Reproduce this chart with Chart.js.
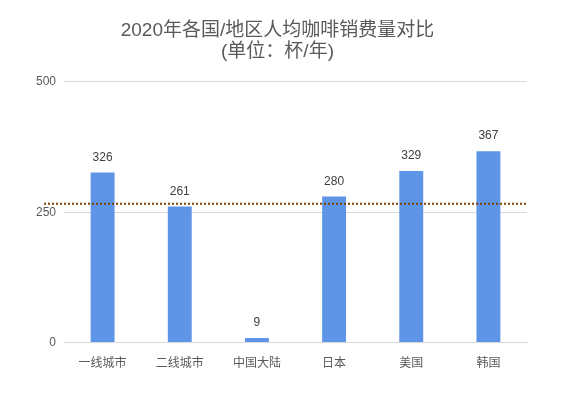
<!DOCTYPE html>
<html>
<head>
<meta charset="utf-8">
<script src="https://cdn.jsdelivr.net/npm/chart.js@4"></script>
<style>
  body { margin: 0; background: #fff; }
  #wrap { width: 583px; height: 394px; }
</style>
</head>
<body>
<div id="wrap"><canvas id="monGraphique" width="583" height="394"></canvas></div>
<script>
// données
const categories = ['一线城市', '二线城市', '中国大陆', '日本', '美国', '韩国'];
const consommation = [326, 261, 9, 280, 329, 367];
const ligneMoyenne = 266; // ligne pointillée
const yTicks = [0, 250, 500];

const fontFamily = '"Liberation Sans", Arial, "Noto Sans CJK SC", sans-serif';

// valeurs au-dessus des barres + ligne pointillée
const pluginExtras = {
    id: 'extras',
    afterDatasetsDraw(chart) {
        const ctx = chart.ctx;
        const meta = chart.getDatasetMeta(0);
        ctx.save();
        ctx.font = '12px ' + fontFamily;
        ctx.fillStyle = '#404040';
        ctx.textAlign = 'center';
        ctx.textBaseline = 'bottom';
        meta.data.forEach((bar, i) => {
            ctx.fillText(consommation[i], bar.x, bar.y - 9);
        });
        // ligne pointillée
        const y = chart.scales.y.getPixelForValue(ligneMoyenne);
        ctx.strokeStyle = '#7f3f00';
        ctx.lineWidth = 2;
        ctx.setLineDash([2, 2]);
        ctx.beginPath();
        ctx.moveTo(chart.chartArea.left - 20, y);
        ctx.lineTo(chart.chartArea.right, y);
        ctx.stroke();
        ctx.restore();
    }
};

new Chart(document.getElementById('monGraphique').getContext('2d'), {
    type: 'bar',
    data: {
        labels: categories,
        datasets: [{
            data: consommation,
            backgroundColor: '#5e95e6',
            categoryPercentage: 1,
            barPercentage: 0.31
        }]
    },
    options: {
        responsive: false,
        animation: false,
        layout: { padding: { left: 28, right: 56, top: 0, bottom: 17 } },
        plugins: {
            legend: { display: false },
            tooltip: { enabled: false },
            title: {
                display: true,
                text: ['2020年各国/地区人均咖啡销费量对比', '(单位：杯/年)'],
                color: '#595959',
                font: { size: 19, family: fontFamily, weight: 'normal', lineHeight: 1.1 },
                padding: { top: 20, bottom: 20 }
            }
        },
        scales: {
            x: {
                grid: { display: false },
                border: { color: '#d9d9d9' },
                ticks: { color: '#595959', font: { size: 12, family: fontFamily }, padding: 6 }
            },
            y: {
                min: 0,
                max: 500,
                afterBuildTicks: axis => { axis.ticks = yTicks.map(v => ({ value: v })); },
                grid: { color: '#d9d9d9', drawTicks: false },
                border: { display: false },
                ticks: { color: '#595959', font: { size: 12, family: fontFamily }, padding: 8 }
            }
        }
    },
    plugins: [pluginExtras]
});
</script>
</body>
</html>
